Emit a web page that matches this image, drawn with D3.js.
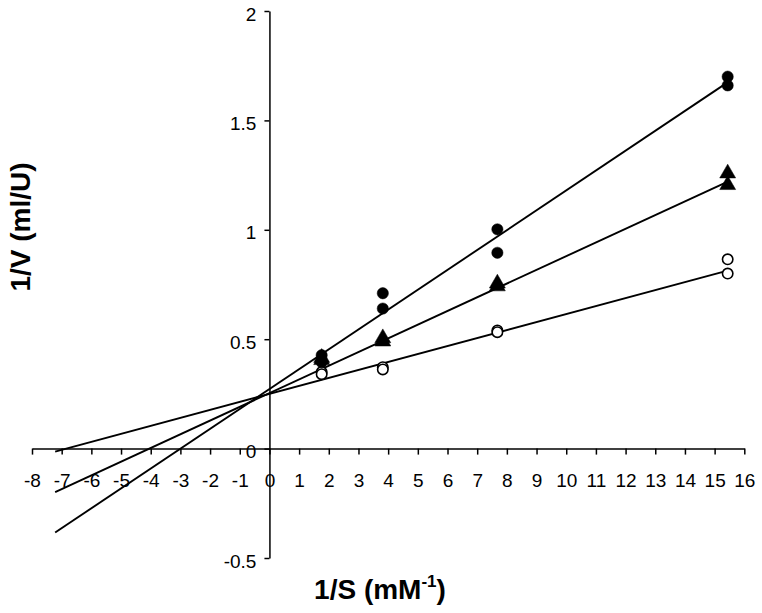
<!DOCTYPE html>
<html><head><meta charset="utf-8">
<script src="https://cdn.jsdelivr.net/npm/d3@7"></script>
<style>body{margin:0;background:#fff}svg{display:block}text{font-family:"Liberation Sans",Arial,sans-serif}</style>
</head><body><svg id="c" width="762" height="613"></svg>
<script>
const xTicks = d3.range(-8, 17, 1);
const yTicks = [-0.5, 0, 0.5, 1, 1.5, 2];
const xVals = [1.76, 3.82, 7.68, 15.44];
// two replicates per concentration
const filledA = [0.427, 0.71, 1.002, 1.70];
const filledB = [0.395, 0.64, 0.895, 1.66];
const triA = [0.415, 0.505, 0.755, 1.258];
const triB = [0.405, 0.49, 0.742, 1.205];
const openA = [0.35, 0.372, 0.540, 0.865];
const openB = [0.34, 0.362, 0.532, 0.80];
// regression lines: [slope, intercept]
const lineFilled = [0.0908, 0.272];
const lineTri = [0.0626, 0.2535];
const lineOpen = [0.0365, 0.250];
const lineRange = [-7.22, 15.5];

const svg = d3.select("#c");
const x = d3.scaleLinear().domain([-8, 16]).range([32, 744.3]);
const y = d3.scaleLinear().domain([-0.5, 2]).range([558, 11]);

// axes
const gx = svg.append("g").attr("transform", `translate(0,${y(0)})`)
  .call(d3.axisBottom(x).tickValues(xTicks).tickSize(6).tickSizeOuter(0).tickFormat(d3.format("d")));
gx.select(".domain").attr("stroke", "#000").attr("stroke-width", 1.5);
gx.selectAll(".tick line").attr("stroke", "#000").attr("stroke-width", 1.5);
gx.selectAll(".tick text").attr("font-size", 19).attr("fill", "#000").attr("y", 0).attr("dy", 0)
  .attr("transform", "translate(0,38.5)").text(d => d < 0 ? "-" + Math.abs(d) : d);

const gy = svg.append("g").attr("transform", `translate(${x(0)},0)`)
  .call(d3.axisLeft(y).tickValues(yTicks).tickSize(5).tickSizeOuter(0).tickFormat(d => d < 0 ? "-" + Math.abs(d) : String(d)));
gy.select(".domain").attr("stroke", "#000").attr("stroke-width", 1.5);
gy.selectAll(".tick line").attr("stroke", "#000").attr("stroke-width", 1.5);
gy.selectAll(".tick text").attr("font-size", 19).attr("fill", "#000").attr("x", -13).attr("dy", 0).attr("y", 9);
gy.attr("font-family", null).attr("font-size", null); gx.attr("font-family", null).attr("font-size", null);

// lines
const lineGen = d3.line().x(d => x(d[0])).y(d => y(d[1]));
[lineFilled, lineTri, lineOpen].forEach(([m, b]) => {
  svg.append("path").datum(lineRange.map(v => [v, m * v + b]))
    .attr("d", lineGen).attr("fill", "none").attr("stroke", "#000").attr("stroke-width", 1.9);
});

// markers
const pts = (arr) => arr.map((v, i) => [xVals[i], v]);
const circleSym = d3.symbol().type(d3.symbolCircle).size(100);
const triSym = d3.symbol().type(d3.symbolTriangle).size(110);
function draw(data, sym, fill) {
  svg.append("g").selectAll("path").data(data).join("path")
    .attr("d", sym).attr("transform", d => `translate(${x(d[0])},${y(d[1])})`)
    .attr("fill", fill ? "#000" : "#fff").attr("stroke", "#000").attr("stroke-width", fill ? 0.5 : 1.6);
}
draw(pts(openA).concat(pts(openB)), d3.symbol().type(d3.symbolCircle).size(85), false);
draw(pts(triA).concat(pts(triB)), triSym, true);
draw(pts(filledA).concat(pts(filledB)), circleSym, true);

// titles
svg.append("text").attr("x", 380).attr("y", 599).attr("text-anchor", "middle")
  .attr("font-size", 28).attr("font-weight", "bold")
  .html('1/S (mM<tspan font-size="17" dy="-12">-1</tspan><tspan dy="12">)</tspan>');
svg.append("text").attr("transform", "translate(30,227) rotate(-90)").attr("text-anchor", "middle")
  .attr("font-size", 28).attr("font-weight", "bold").text("1/V (ml/U)");
</script></body></html>
